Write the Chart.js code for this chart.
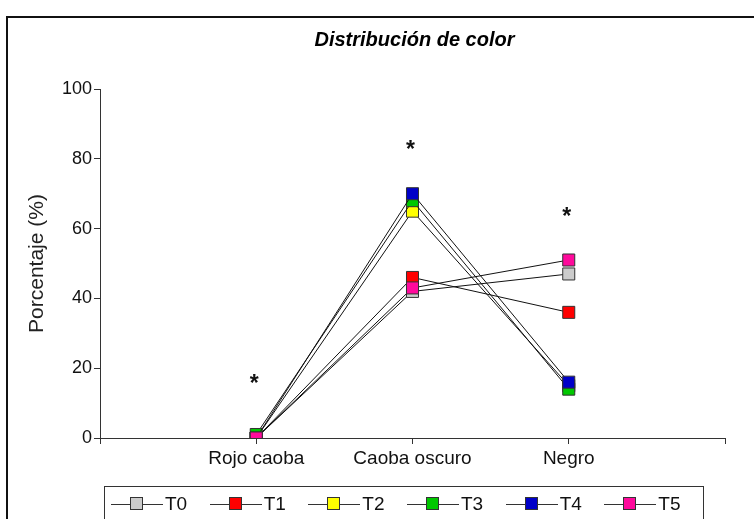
<!DOCTYPE html>
<html>
<head>
<meta charset="utf-8">
<script src="https://cdn.jsdelivr.net/npm/chart.js@4"></script>
<style>
  html, body { margin: 0; padding: 0; background: #fff; }
  body { width: 754px; height: 519px; position: relative; overflow: hidden; font-family: "Liberation Sans", Arial, sans-serif; }
  #frame { position: absolute; left: 6px; top: 16px; width: 800px; height: 600px; border-left: 2px solid #111; border-top: 2px solid #111; }
  #wrap { position: absolute; left: 0; top: 0; width: 754px; height: 519px; }
  #legend { position: absolute; left: 104px; top: 486px; width: 600px; height: 60px; border: 1.5px solid #333; display: flex; padding-left: 6px; box-sizing: border-box; }
  .item { width: 100px; height: 34px; display: flex; align-items: center; }
  .sym { position: relative; width: 52px; height: 14px; }
  .sym .ln { position: absolute; left: 0; right: 0; top: 7px; height: 1px; background: #333; }
  .sym .sq { position: absolute; left: 19px; top: 0; width: 11px; height: 11px; border: 1px solid #333; }
  .item .tx { font-size: 19px; color: #111; margin-left: 2px; }
</style>
</head>
<body>
<div id="frame"></div>
<div id="wrap"><canvas id="myChart" width="754" height="519"></canvas></div>
<div id="legend"></div>
<script>
const chartTitle = 'Distribución de color';
const categories = ['Rojo caoba', 'Caoba oscuro', 'Negro'];
const seriesNames = ['T0', 'T1', 'T2', 'T3', 'T4', 'T5'];
const seriesColors = ['#cccccc', '#ff0000', '#ffff00', '#00c800', '#0000c8', '#ff0a9c'];
const t0 = [0, 42, 47];
const t1 = [0, 46, 36];
const t2 = [0, 65, 15];
const t3 = [1, 68, 14];
const t4 = [0, 70, 16];
const t5 = [0, 43, 51];
const asterisks = [17, 84, 65]; // marcas de significancia
const yTicks = [0, 20, 40, 60, 80, 100];

const allSeries = [t0, t1, t2, t3, t4, t5];
// una categoria vacia a cada lado, como en el original
const labels = [''].concat(categories, ['']);

const FONT = '"Liberation Sans", Arial, sans-serif';

// titulo centrado sobre el area del grafico + asteriscos
const extrasPlugin = {
  id: 'extras',
  afterDraw(chart) {
    const c = chart.ctx;
    const a = chart.chartArea;
    c.save();
    c.font = 'italic bold 20px ' + FONT;
    c.fillStyle = '#000';
    c.textAlign = 'center';
    c.textBaseline = 'middle';
    c.fillText(chartTitle, (a.left + a.right) / 2 + 2, 40);
    c.restore();
  },
  afterDatasetsDraw(chart) {
    const c = chart.ctx;
    const x = chart.scales.x, y = chart.scales.y;
    c.save();
    c.font = 'bold 23px ' + FONT;
    c.fillStyle = '#111';
    c.textAlign = 'center';
    c.textBaseline = 'alphabetic';
    const m = c.measureText('*');
    const off = (m.actualBoundingBoxAscent - m.actualBoundingBoxDescent) / 2;
    asterisks.forEach((v, i) => {
      c.fillText('*', x.getPixelForValue(i + 1) - 2, y.getPixelForValue(v) + off);
    });
    c.restore();
  }
};

const ctx = document.getElementById('myChart');
const myChart = new Chart(ctx, {
  type: 'line',
  data: {
    labels: labels,
    datasets: allSeries.map((s, i) => ({
      label: seriesNames[i],
      data: [null].concat(s, [null]),
      order: allSeries.length - i, // T5 queda encima
      borderColor: '#111',
      borderWidth: 1,
      pointStyle: 'rect',
      pointRadius: 8.5,
      pointBackgroundColor: seriesColors[i],
      pointBorderColor: '#333',
      pointBorderWidth: 1,
      tension: 0
    }))
  },
  options: {
    responsive: false,
    animation: false,
    layout: { padding: { left: 0, right: 29, top: 89, bottom: 0 } },
    plugins: {
      legend: { display: false },
      tooltip: { enabled: false },
      title: { display: false }
    },
    scales: {
      x: {
        offset: false,
        grid: { drawOnChartArea: false, tickLength: 6, color: '#333' },
        border: { color: '#333', width: 1 },
        ticks: { color: '#111', padding: 3, maxRotation: 0, autoSkip: false,
                 font: { family: FONT, size: 19 } },
        afterFit(scale) { scale.height = 81; }
      },
      y: {
        min: 0,
        max: 100,
        afterBuildTicks(scale) { scale.ticks = yTicks.map(v => ({ value: v })); },
        grid: { drawOnChartArea: false, tickLength: 6, color: '#333' },
        border: { color: '#333', width: 1 },
        ticks: { color: '#111', padding: 2, font: { family: FONT, size: 18 } },
        title: {
          display: true,
          text: 'Porcentaje (%)',
          color: '#222',
          font: { family: FONT, size: 21 },
          padding: { top: 25, bottom: 0 }
        },
        afterFit(scale) { scale.width = 100; }
      }
    }
  },
  plugins: [extrasPlugin]
});

// leyenda en HTML
const legendEl = document.getElementById('legend');
myChart.data.datasets.forEach((ds, i) => {
  const item = document.createElement('div');
  item.className = 'item';
  item.innerHTML = '<span class="sym"><span class="ln"></span><span class="sq" style="background:' +
    seriesColors[i] + '"></span></span><span class="tx">' + ds.label + '</span>';
  legendEl.appendChild(item);
});
</script>
</body>
</html>
